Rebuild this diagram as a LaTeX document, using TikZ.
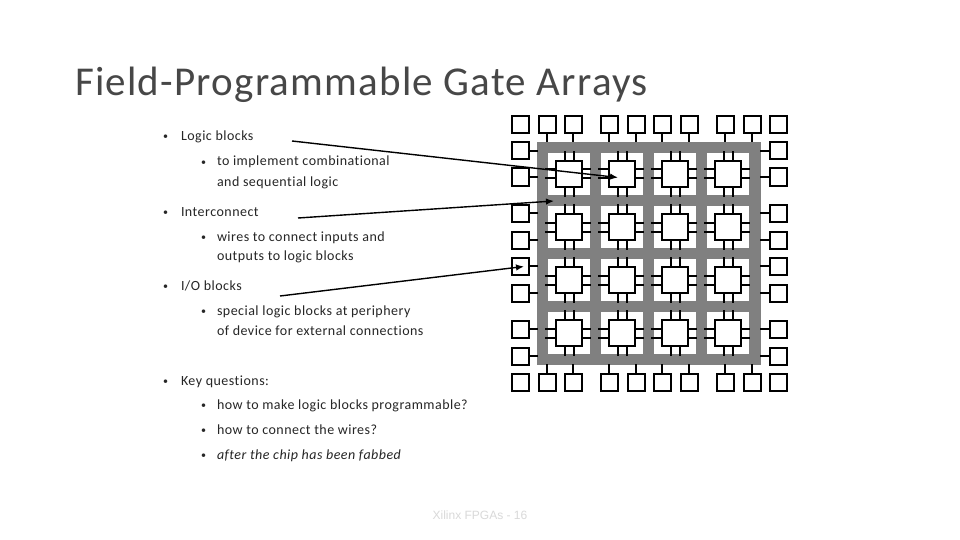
\documentclass[tikz,border=0pt]{standalone}
\usepackage{fontspec}
\setmainfont{Carlito}
\newfontfamily\footfont{Liberation Sans}
\newfontfamily\bodyfont[LetterSpace=3.4,Ligatures=NoCommon]{Carlito}
\newfontfamily\titlefont[LetterSpace=3.0,Ligatures=NoCommon]{Carlito}
\usetikzlibrary{arrows.meta}
\tikzset{
  x=1pt,y=-1pt,
  iobox/.style={draw=black,line width=2pt,fill=white,minimum size=17pt,inner sep=0pt,outer sep=0pt},
  logicblock/.style={draw=black,line width=2pt,fill=white,minimum size=26pt,inner sep=0pt,outer sep=0pt},
  hole/.style={fill=white,minimum size=42pt,inner sep=0pt,outer sep=0pt},
  fabric/.style={fill=black!50,inner sep=0pt,outer sep=0pt,minimum width=224pt,minimum height=223pt},
  wirepin/.style={draw=black,line width=2pt},
  callout/.style={draw=black,line width=1.4pt,-{Latex[length=8pt,width=6.5pt]}},
  txt/.style={anchor=base west,inner sep=0pt,outer sep=0pt,font=\bodyfont\fontsize{14}{16}\selectfont,text=black!85},
  bul/.style={anchor=base west,inner sep=0pt,outer sep=0pt,font=\fontsize{10}{12}\selectfont,text=black!85},
  titletxt/.style={anchor=base west,inner sep=0pt,outer sep=0pt,font=\titlefont\fontsize{41}{48}\selectfont,text=black!72},
  foot/.style={anchor=base,inner sep=0pt,outer sep=0pt,font=\footfont\fontsize{12}{14}\selectfont,text=black!15}
}
\begin{document}
\begin{tikzpicture}
\useasboundingbox (0,0) rectangle (960,540);
\fill[white] (0,0) rectangle (960,540);
\node[titletxt] (title) at (75,96) {Field-Programmable Gate Arrays};
% text
\foreach \n/\y in {a/140,b/215,c/289,d/384}{
  \node[bul] (bul\n) at (163,\y) {•};
}
\node[txt] (laba) at (181,141) {Logic blocks};
\node[txt] (labb) at (181,216) {Interconnect};
\node[txt] (labc) at (181,290) {I/O blocks};
\node[txt] (labd) at (181,385) {Key questions:};
\foreach \n/\y in {a/165,b/240,c/314,d/408,e/433,f/458}{
  \node[bul] (sub\n) at (201,\y) {•};
}
\node[txt] (l1) at (217,166) {to implement combinational};
\node[txt] (l2) at (217,186) {and sequential logic};
\node[txt] (l3) at (217,241) {wires to connect inputs and};
\node[txt] (l4) at (217,260) {outputs to logic blocks};
\node[txt] (l5) at (217,315) {special logic blocks at periphery};
\node[txt] (l6) at (217,335) {of device for external connections};
\node[txt] (l7) at (217,409) {how to make logic blocks programmable?};
\node[txt] (l8) at (217,434) {how to connect the wires?};
\node[txt] (l9) at (217,459) {\textit{after the chip has been fabbed}};
\node[foot] (footer) at (480,519) {Xilinx FPGAs - 16};
% fabric
\node[fabric] (fab) at (649,253.5) {};
% holes, blocks, pins
\foreach \cx [count=\i] in {569,622,675,728}{
  \foreach \cy [count=\j] in {174,227,280,333}{
    \node[hole] (h\i\j) at (\cx,\cy) {};
    \node[logicblock] (b\i\j) at (\cx,\cy) {};
    \foreach \s in {-4.5,4.5}{
      \draw[wirepin] ([xshift=\s pt]b\i\j.north) -- ++(0,-10);
      \draw[wirepin] ([xshift=\s pt]b\i\j.south) -- ++(0,10);
      \draw[wirepin] ([yshift=\s pt]b\i\j.west) -- ++(-11,0);
      \draw[wirepin] ([yshift=\s pt]b\i\j.east) -- ++(9,0);
    }
  }
}
% top/bottom I/O
\foreach \cx [count=\i] in {520,547,573,609,636,662,689,725,752,778}{
  \node[iobox] (t\i) at (\cx,124.5) {};
  \node[iobox] (u\i) at (\cx,382) {};
}
\foreach \i in {2,...,9}{
  \draw[wirepin] (t\i.south) -- ++(0,9);
  \draw[wirepin] (u\i.north) -- ++(0,-10);
}
% left/right I/O
\foreach \cy [count=\i] in {151,177,213,240,266,293,329,356}{
  \node[iobox] (w\i) at (520,\cy) {};
  \node[iobox] (e\i) at (778,\cy) {};
  \draw[wirepin] (w\i.east) -- ++(9,0);
  \draw[wirepin] (e\i.west) -- ++(-10,0);
}
% callouts
\coordinate (s1) at (292,141);
\coordinate (s2) at (298,218);
\coordinate (s3) at (280,296);
\coordinate (e1) at (618,177.5);
\coordinate (e2) at (554,201);
\coordinate (e3) at (524,266.5);
\draw[callout] (s1) -- (e1);
\draw[callout] (s2) -- (e2);
\draw[callout] (s3) -- (e3);
\end{tikzpicture}
\end{document}
